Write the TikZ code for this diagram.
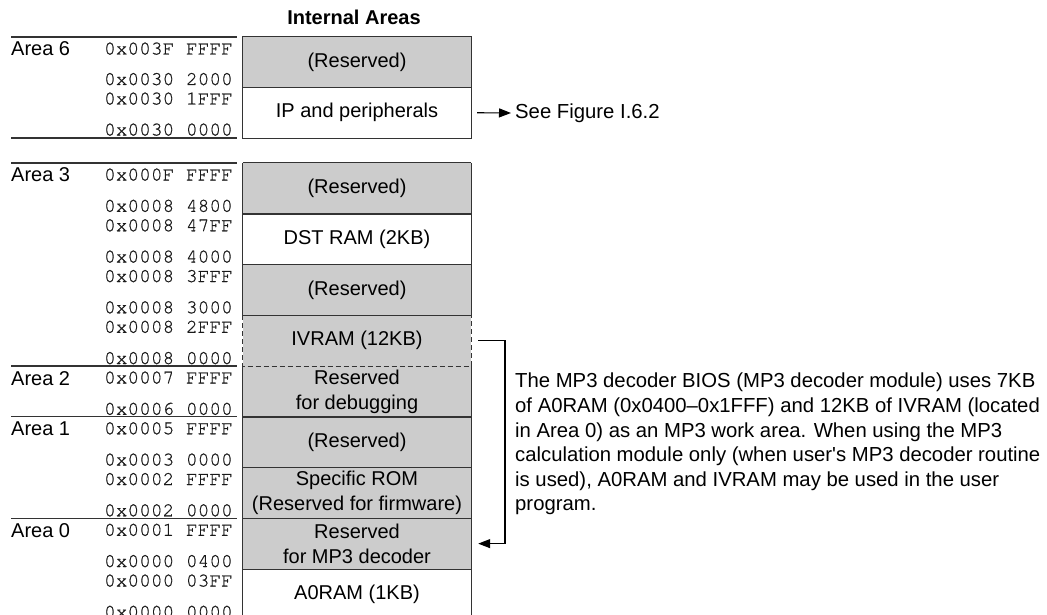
\documentclass[tikz,border=0pt]{standalone}
\usepackage{fontspec}
\setmainfont{Liberation Sans}[Ligatures=TeXOff]
\newfontfamily\addrfont{TeX Gyre Cursor}[FakeBold=0.7]
\usetikzlibrary{arrows.meta}
\definecolor{resgray}{HTML}{CCCCCC}
\definecolor{linegray}{HTML}{333333}
\begin{document}
\begin{tikzpicture}[x=1pt,y=-1pt,
  region/.style={minimum width=228pt, minimum height=50.75pt, inner sep=0pt,
                 align=center, font=\fontsize{20}{25}\selectfont},
  resv/.style={region, fill=resgray},
  free/.style={region, fill=white},
  border/.style={draw=linegray, line width=1.1pt},
  dborder/.style={draw=linegray, line width=1.3pt, dash pattern=on 5pt off 3pt},
  addr/.style={anchor=base east, inner sep=0pt,
               font=\addrfont\fontsize{19.5}{20}\selectfont, text=black!90},
  area/.style={anchor=base west, inner sep=0pt, font=\fontsize{20}{24}\selectfont},
  sep/.style={draw=linegray, line width=1.2pt},
  tip/.style={draw=black, line width=1.1pt, -{Triangle[length=12pt,width=9pt]}},
  plain/.style={inner sep=0pt, font=\fontsize{20.3}{24.6}\selectfont}
]
\useasboundingbox (0,0) rectangle (1047,615);

% heading
\node[anchor=base, inner sep=0pt, font=\bfseries\fontsize{20}{24}\selectfont] (title) at (354,25) {Internal Areas};

% ---- Area 6 ----
\node[resv, minimum height=50.5pt] (r6a) at (357,62.25) {(Reserved)};
\node[free, minimum height=50.5pt] (ip)  at (357,112.75) {IP and peripherals};
\draw[border] (r6a.north west) rectangle (ip.south east);
\draw[border] (r6a.south west) -- (r6a.south east);

% ---- Areas 3 to 0 ----
\node[resv] (r3a)   at (357,188.375) {(Reserved)};
\node[free] (dst)   at (357,239.125) {DST RAM (2KB)};
\node[resv] (r3c)   at (357,289.875) {(Reserved)};
\node[resv] (ivram) at (357,340.625) {IVRAM (12KB)};
\node[resv] (dbg)   at (357,391.375) {Reserved\\for debugging};
\node[resv] (r1)    at (357,442.125) {(Reserved)};
\node[resv] (rom)   at (357,492.875) {Specific ROM\\(Reserved for firmware)};
\node[resv] (mp3)   at (357,543.625) {Reserved\\for MP3 decoder};
\node[free] (a0)    at (357,594.375) {A0RAM (1KB)};

% outline of the lower column
\draw[border] (r3a.north west) -- (r3a.north east);
\draw[border] (r3a.north west) -- (ivram.north west);
\draw[border] (r3a.north east) -- (ivram.north east);
\draw[dborder] (ivram.north west) -- (ivram.south west) -- (ivram.south east) -- (ivram.north east);
\draw[border] (dbg.north west) -- (a0.south west);
\draw[border] (dbg.north east) -- (a0.south east);
\foreach \n in {r3a,dst,r3c,dbg,r1,rom,mp3}
  \draw[border] (\n.south west) -- (\n.south east);

% area separators
\draw[sep] (11,37) -- (237,37);
\draw[sep] (11,138) -- (237,138);
\draw[sep] (11,163) -- (237,163);
\draw[sep] (11,366) -- (237,366);
\draw[sep] (11,416.75) -- (237,416.75);
\draw[sep] (11,518.25) -- (237,518.25);

% area names
\node[area] (n6) at (11,56) {Area 6};
\node[area] (n3) at (11,182) {Area 3};
\node[area] (n2) at (11,385) {Area 2};
\node[area] (n1) at (11,435.75) {Area 1};
\node[area] (n0) at (11,537.25) {Area 0};

% addresses
\node[addr] (a01) at (233,54.5)  {0x003F FFFF};
\node[addr] (a02) at (233,85)    {0x0030 2000};
\node[addr] (a03) at (233,104.5) {0x0030 1FFF};
\node[addr] (a04) at (233,135.5) {0x0030 0000};

\node[addr] (a05) at (233,180.5) {0x000F FFFF};
\node[addr] (a06) at (233,211.75){0x0008 4800};
\node[addr] (a07) at (233,231.25){0x0008 47FF};
\node[addr] (a08) at (233,262.5) {0x0008 4000};
\node[addr] (a09) at (233,282)   {0x0008 3FFF};
\node[addr] (a10) at (233,313.25){0x0008 3000};
\node[addr] (a11) at (233,332.75){0x0008 2FFF};
\node[addr] (a12) at (233,364)   {0x0008 0000};
\node[addr] (a13) at (233,383.5) {0x0007 FFFF};
\node[addr] (a14) at (233,414.75){0x0006 0000};
\node[addr] (a15) at (233,434.25){0x0005 FFFF};
\node[addr] (a16) at (233,465.5) {0x0003 0000};
\node[addr] (a17) at (233,485)   {0x0002 FFFF};
\node[addr] (a18) at (233,516.25){0x0002 0000};
\node[addr] (a19) at (233,535.75){0x0001 FFFF};
\node[addr] (a20) at (233,567)   {0x0000 0400};
\node[addr] (a21) at (233,586.5) {0x0000 03FF};
\node[addr] (a22) at (233,617.75){0x0000 0000};

% reference to the peripheral map
\node[plain, anchor=west] (see) at (515,113) {See Figure I.6.2};
\draw[tip] ([xshift=6pt]ip.east) -- ([xshift=-4pt]see.west);

% note on the MP3 work areas
\coordinate (brk) at (505,0);
\draw[tip] ([xshift=7pt]ivram.east) -- (ivram.east -| brk) -- (mp3.east -| brk) -- ([xshift=7pt]mp3.east);
\node[plain, anchor=north west, align=left] (note) at (515,373)
  {The MP3 decoder BIOS (MP3 decoder module) uses 7KB\\
   of A0RAM (0x0400–0x1FFF) and 12KB of IVRAM (located\\
   in Area 0) as an MP3 work area. When using the MP3\\
   calculation module only (when user's MP3 decoder routine\\
   is used), A0RAM and IVRAM may be used in the user\\
   program.};
\end{tikzpicture}
\end{document}
